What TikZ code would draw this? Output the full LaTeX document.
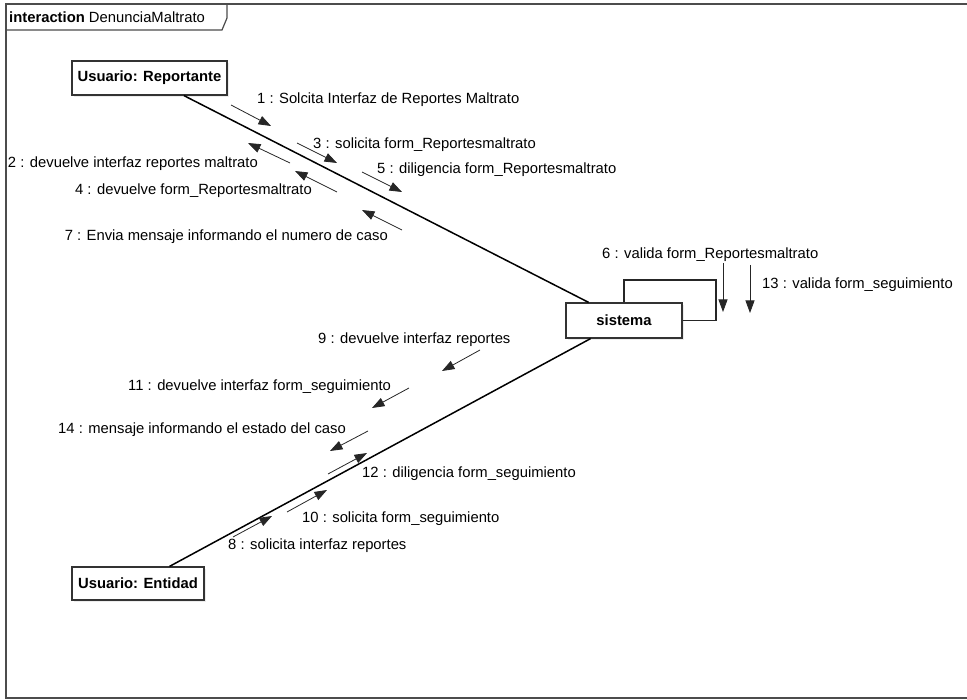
\documentclass[tikz,border=0pt]{standalone}
\usepackage{fontspec}
\setmainfont{Liberation Sans}
\usetikzlibrary{arrows.meta,shadows}
\newcommand{\txtsize}{\fontsize{14.8}{17}\selectfont}
\newcommand{\boxw}{1.2pt}

\begin{document}
\begin{tikzpicture}[x=1pt,y=-1pt]
            \tikzset{obj/.style = {draw=black!80, fill=white, line width=\boxw, font=\txtsize\bfseries,
                inner sep=0pt, minimum height=34pt,
                drop shadow={shadow xshift=2pt, shadow yshift=-2pt, opacity=0.15}}}
            \tikzset{link/.style = {line width=1.5pt, black}}
            \tikzset{msg/.style = {line width=0.8pt, black!85, -{Triangle[length=12.5pt,width=9pt]}}}
            \tikzset{lbl/.style = {font=\txtsize, inner sep=0pt, text height=10.5pt, text depth=0pt}}
            \useasboundingbox (0,0) rectangle (967,700);
            \draw[black!70, line width=\boxw] (967,4) -- (6,4) -- (6,698) -- (967,698);
            \draw[black!70, line width=\boxw] (6,30) -- (222,30) -- (227,18) -- (227,4);
            \node[lbl, anchor=west] (hdr) at (9,17) {\textbf{interaction} DenunciaMaltrato};

            \node[obj, minimum width=155pt] (rep) at (149.5,78) {Usuario: Reportante};
            \node[obj, minimum width=116pt, minimum height=35pt] (sis) at (624,320.5) {sistema};
            \node[obj, minimum width=132pt, minimum height=33pt] (ent) at (138,583.5) {Usuario: Entidad};

            \draw[link] (rep) -- (sis);
            \draw[link] (ent) -- (sis);
            \coordinate (loop) at (716,280);
            \draw[black!85, line width=\boxw] (sis.north) |- (loop) |- (sis.east);

            \foreach \n/\s/\e in {1/{231,105}/{271,126}, 3/{297,143}/{337,163}, 5/{362,172}/{402,192},
                2/{290,163}/{248,143}, 4/{337,192}/{295,171}, 7/{402,230}/{362,210},
                9/{480,350}/{442,371}, 11/{409,388}/{372,408}, 14/{368,431}/{330,451},
                12/{328,474}/{367,453}, 10/{287,512}/{327,490}, 8/{233,537}/{272,516},
                6/{723,263}/{723,312}, 13/{750,265}/{750,313}}{
                \coordinate (s\n) at (\s);
                \coordinate (e\n) at (\e);
                \draw[msg] (s\n) -- (e\n);
            }

            \node[lbl, anchor=west] (l1) at (257,98) {1 : Solcita Interfaz de Reportes Maltrato};
            \node[lbl, anchor=east] (l2) at (258,162) {2 : devuelve interfaz reportes maltrato};
            \node[lbl, anchor=west] (l3) at (313,143) {3 : solicita form\_Reportesmaltrato};
            \node[lbl, anchor=east] (l4) at (312,189) {4 : devuelve form\_Reportesmaltrato};
            \node[lbl, anchor=west] (l5) at (377,168) {5 : diligencia form\_Reportesmaltrato};
            \node[lbl, anchor=west] (l6) at (602,253) {6 : valida form\_Reportesmaltrato};
            \node[lbl, anchor=east] (l7) at (388,235) {7 : Envia mensaje informando el numero de caso};
            \node[lbl, anchor=west] (l8) at (228,544) {8 : solicita interfaz reportes};
            \node[lbl, anchor=west] (l9) at (318,338) {9 : devuelve interfaz reportes};
            \node[lbl, anchor=west] (l10) at (302,517) {10 : solicita form\_seguimiento};
            \node[lbl, anchor=west] (l11) at (128,385) {11 : devuelve interfaz form\_seguimiento};
            \node[lbl, anchor=west] (l12) at (362,472) {12 : diligencia form\_seguimiento};
            \node[lbl, anchor=west] (l13) at (762,283) {13 : valida form\_seguimiento};
            \node[lbl, anchor=west] (l14) at (58,428) {14 : mensaje informando el estado del caso};
\end{tikzpicture}
\end{document}
